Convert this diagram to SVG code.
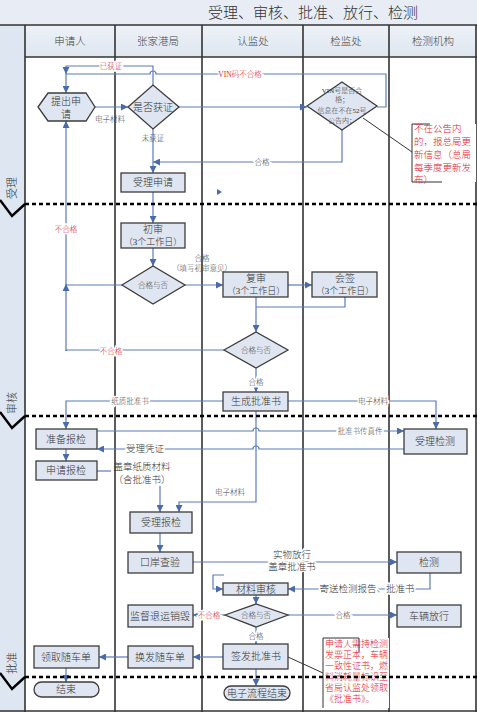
<svg xmlns="http://www.w3.org/2000/svg" width="477" height="712" viewBox="0 0 477 712">
<defs>
<marker id="a" viewBox="0 0 10 10" refX="10" refY="5" markerWidth="7" markerHeight="7" orient="auto" markerUnits="userSpaceOnUse"><path d="M0,0 L10,5 L0,10 z" fill="#4a6aaa"/></marker>
<linearGradient id="hg" x1="0" y1="0" x2="0" y2="1"><stop offset="0" stop-color="#eef2f8"/><stop offset="1" stop-color="#dfe6f0"/></linearGradient>
</defs>
<style>
text{font-family:"Liberation Serif","Noto Sans CJK SC",serif;dominant-baseline:central;text-anchor:middle;fill:#333;font-weight:300}
.box{fill:#dfe6f1;stroke:#3c3c3c;stroke-width:1.3}
.t{font-size:10px}
.m{font-size:9px}
.s{font-size:7.5px;fill:#444}
.r{font-size:7.5px;fill:#e0202a}
.v{font-size:7px;fill:#333}
.n{font-size:9.5px;fill:#e0202a;text-anchor:start}
.w{paint-order:stroke;stroke:#fff;stroke-width:3}
.c{fill:none;stroke:#5b7bb8;stroke-width:1.2}
.ca{fill:none;stroke:#5b7bb8;stroke-width:1.2;marker-end:url(#a)}
.lane{stroke:#333;stroke-width:1.6}
.sep{stroke:#000;stroke-width:2.6;stroke-dasharray:4 3}
.chev{fill:none;stroke:#000;stroke-width:2.4}
.hdr{font-size:10.5px;fill:#444}
</style>
<rect x="0" y="0" width="477" height="712" fill="#ffffff"/>
<rect x="0" y="0" width="477" height="25" fill="#e8edf5"/>
<text x="313" y="13" style="font-size:15px" fill="#222">受理、审核、批准、放行、检测</text>
<rect x="0" y="25" width="25" height="687" fill="#dde6f1"/>
<rect x="25" y="25" width="452" height="32" fill="url(#hg)"/>
<g id="lanes">
<line class="lane" x1="0" y1="25" x2="477" y2="25"/>
<line class="lane" x1="25" y1="57" x2="477" y2="57"/>
<line class="lane" x1="25" y1="25" x2="25" y2="712"/>
<line class="lane" x1="115" y1="25" x2="115" y2="712"/>
<line class="lane" x1="202" y1="25" x2="202" y2="712"/>
<line class="lane" x1="303" y1="25" x2="303" y2="712"/>
<line class="lane" x1="389" y1="25" x2="389" y2="712"/>
<line class="lane" x1="476" y1="25" x2="476" y2="712"/>
<line class="lane" x1="0" y1="711" x2="477" y2="711"/>
<text class="hdr" x="70" y="41">申请人</text>
<text class="hdr" x="158" y="41">张家港局</text>
<text class="hdr" x="253" y="41">认监处</text>
<text class="hdr" x="346" y="41">检监处</text>
<text class="hdr" x="433" y="41">检测机构</text>
</g>
<g id="phases">
<text x="12" y="188" transform="rotate(-90 12 188)" style="font-size:11px">受理</text>
<text x="12" y="403" transform="rotate(-90 12 403)" style="font-size:11px">审核</text>
<text x="12" y="663" transform="rotate(-90 12 663)" style="font-size:11px">批准</text>
<path class="chev" d="M0,200 L12,216 L25,204"/>
<path class="chev" d="M0,412 L12,428 L25,416"/>
<path class="chev" d="M0,673 L12,689 L25,677"/>
</g>
<g id="connectors">
<path class="ca" d="M153,85 V66 H66 V74"/>
<path class="ca" d="M377,107 H386 V74 H156 A3,3 0 0 0 150,74 H66 V93"/>
<path class="ca" d="M95,107 H128"/>
<path class="ca" d="M179,107 H307"/>
<path class="ca" d="M153,129 V173"/>
<path class="ca" d="M342,130 V162 H153"/>
<path class="ca" d="M153,192 V223"/>
<path class="ca" d="M153,248 V266"/>
<path class="ca" d="M185,285 H223"/>
<path class="ca" d="M288,285 H312"/>
<path class="c" d="M345,297 V307 H256"/>
<path class="ca" d="M256,297 V332"/>
<path class="ca" d="M66,351 V284"/>
<path class="ca" d="M122,285 H66 V121"/>
<path class="c" d="M224,350 H66 V351"/>
<path class="ca" d="M256,368 V392"/>
<path class="ca" d="M223,401 H66 V429"/>
<path class="ca" d="M288,401 H436 V429"/>
<path class="ca" d="M97,431 H253 A3,3 0 0 1 259,431 H404"/>
<path class="ca" d="M404,449 H259 A3,3 0 0 0 253,449 H97"/>
<path class="ca" d="M66,449 V461"/>
<path class="c" d="M97,471 H111"/>
<path class="ca" d="M160,486 V512"/>
<path class="ca" d="M256,411 V502 H179 V512"/>
<path class="ca" d="M160,533 V552"/>
<path class="ca" d="M193,562 H397"/>
<path class="ca" d="M430,573 V589 H288"/>
<path class="ca" d="M224,575 H213 V589 H223"/>
<path class="ca" d="M256,595 V604"/>
<path class="ca" d="M225,615 H193"/>
<path class="ca" d="M288,615 H397"/>
<path class="ca" d="M256,627 V644"/>
<path class="ca" d="M223,657 H193"/>
<path class="ca" d="M128,657 H99"/>
<path class="ca" d="M66,668 V682"/>
<path class="ca" d="M256,669 V686"/>
<polygon points="217,189 222,192 217,195" fill="#4a6aaa"/>
<path d="M363,118 L412,152" stroke="#333" stroke-width="1" fill="none"/>
<path d="M288,657 L323,673" stroke="#333" stroke-width="1" fill="none"/>
</g>
<g id="labels">
<text class="r w" x="111" y="66">已获证</text>
<text class="r w" x="240" y="74">VIN码不合格</text>
<text class="s" x="110" y="119">电子材料</text>
<text class="s" x="153" y="138">未获证</text>
<text class="s w" x="262" y="162">合格</text>
<text class="r w" x="66" y="229">不合格</text>
<text class="s" x="202" y="258">合格</text>
<text class="s" x="202" y="268">（填写初审意见）</text>
<text class="r w" x="111" y="351">不合格</text>
<text class="s w" x="256" y="382">合格</text>
<text class="s w" x="130" y="401">纸质批准书</text>
<text class="s w" x="373" y="401">电子材料</text>
<text class="s w" x="360" y="431">批准书传真件</text>
<text class="w" x="145" y="449" style="font-size:9.5px">受理凭证</text>
<text x="142" y="467" style="font-size:9.5px">盖章纸质材料</text>
<text x="142" y="480" style="font-size:9.5px">（含批准书）</text>
<text class="s" x="230" y="492">电子材料</text>
<text class="w" x="292" y="555" style="font-size:9.5px">实物放行</text>
<text class="w" x="292" y="567" style="font-size:9.5px">盖章批准书</text>
<text class="w" x="367" y="589" style="font-size:9.5px">寄送检测报告、批准书</text>
<text class="r w" x="209" y="615">不合格</text>
<text class="s w" x="343" y="615">合格</text>
<text class="s w" x="256" y="636">合格</text>
</g>
<g id="n-tichu"><polygon class="box" points="38,107 48,93 86,93 95,107 86,121 48,121"/><text class="t" x="66" y="101">提出申</text><text class="t" x="66" y="114">请</text></g>
<g id="n-huozheng"><polygon class="box" points="128,107 153,85 179,107 153,129"/><text class="t" x="153" y="107">是否获证</text></g>
<g id="n-vin"><polygon class="box" points="307,106 342,82 377,106 342,130"/><text class="v" x="342" y="91">VIN号是否合</text><text class="v" x="342" y="100">格；</text><text class="v" x="342" y="111">信息在不在52号</text><text class="v" x="342" y="121">公告内；</text></g>
<g id="n-note1"><rect x="412" y="124" width="64" height="58" fill="#fff"/><path d="M430,124 H412 V182 H442" fill="none" stroke="#333" stroke-width="1"/><text class="n" x="414" y="129">不在公告内</text><text class="n" x="414" y="142">的，报总局更</text><text class="n" x="414" y="155">新信息（总局</text><text class="n" x="414" y="168">每季度更新发</text><text class="n" x="414" y="180">布）</text></g>
<g id="n-shouli"><rect class="box" x="121" y="173" width="64" height="19"/><text class="t" x="153" y="182.5">受理申请</text></g>
<g id="n-chushen"><rect class="box" x="121" y="223" width="64" height="25"/><text class="t" x="153" y="229">初审</text><text class="m" x="153" y="241.5">（3个工作日）</text></g>
<g id="n-hege1"><polygon class="box" points="122,285 153,266 185,285 153,304"/><text class="s" x="153" y="285">合格与否</text></g>
<g id="n-fushen"><rect class="box" x="223" y="272" width="65" height="25"/><text class="t" x="256" y="278">复审</text><text class="m" x="256" y="290.5">（3个工作日）</text></g>
<g id="n-huiqian"><rect class="box" x="312" y="272" width="65" height="25"/><text class="t" x="345" y="278">会签</text><text class="m" x="345" y="290.5">（3个工作日）</text></g>
<g id="n-hege2"><polygon class="box" points="224,350 256,332 288,350 256,368"/><text class="s" x="256" y="350">合格与否</text></g>
<g id="n-shengcheng"><rect class="box" x="223" y="392" width="65" height="19"/><text class="t" x="256" y="401.5">生成批准书</text></g>
<g id="n-zhunbei"><rect class="box" x="36" y="429" width="61" height="20"/><text class="t" x="66" y="439">准备报检</text></g>
<g id="n-shenqing"><rect class="box" x="36" y="461" width="61" height="19"/><text class="t" x="66" y="470.5">申请报检</text></g>
<g id="n-shoulijiance"><rect class="box" x="404" y="429" width="63" height="25"/><text class="t" x="435" y="441.5">受理检测</text></g>
<g id="n-shoulibaojian"><rect class="box" x="130" y="512" width="62" height="21"/><text class="t" x="161" y="522.5">受理报检</text></g>
<g id="n-kouan"><rect class="box" x="128" y="552" width="65" height="21"/><text class="t" x="160" y="562.5">口岸查验</text></g>
<g id="n-jiance"><rect class="box" x="397" y="552" width="64" height="21"/><text class="t" x="429" y="562.5">检测</text></g>
<g id="n-cailiao"><rect class="box" x="223" y="583" width="65" height="12"/><text class="t" x="256" y="589">材料审核</text></g>
<g id="n-hege3"><polygon class="box" points="225,615 256,604 288,615 256,627"/><text class="s" x="256" y="615">合格与否</text></g>
<g id="n-jiandu"><rect class="box" x="128" y="605" width="65" height="22"/><text class="t" x="160" y="616">监督退运销毁</text></g>
<g id="n-fangxing"><rect class="box" x="397" y="605" width="64" height="22"/><text class="t" x="429" y="616">车辆放行</text></g>
<g id="n-qianfa"><rect class="box" x="223" y="644" width="65" height="25"/><text class="t" x="256" y="656.5">签发批准书</text></g>
<g id="n-huanfa"><rect class="box" x="128" y="646" width="65" height="22"/><text class="t" x="160" y="657">换发随车单</text></g>
<g id="n-lingqu"><rect class="box" x="34" y="646" width="65" height="22"/><text class="t" x="66" y="657">领取随车单</text></g>
<g id="n-note2"><rect x="323" y="638" width="66" height="70" fill="#fff"/><path d="M359,638 H323 V708 M359,638 V652" fill="none" stroke="#333" stroke-width="1"/><text class="n" x="325" y="644" style="font-size:9px">申请人需持检测</text><text class="n" x="325" y="655" style="font-size:9px">发票正本，车辆</text><text class="n" x="325" y="666" style="font-size:9px">一致性证书，燃</text><text class="n" x="325" y="677" style="font-size:9px">料消耗量标识至</text><text class="n" x="325" y="688" style="font-size:9px">省局认监处领取</text><text class="n" x="325" y="699" style="font-size:9px">《批准书》。</text></g>
<g id="seps">
<line class="sep" x1="25" y1="204" x2="477" y2="204"/>
<line class="sep" x1="25" y1="416" x2="477" y2="416"/>
<line class="sep" x1="25" y1="677" x2="477" y2="677"/>
</g>
<g id="n-end1"><rect class="box" x="34" y="682" width="65" height="15" rx="7.5"/><text class="t" x="66" y="689.5">结束</text></g>
<g id="n-end2"><rect class="box" x="224" y="686" width="66" height="14" rx="7"/><text class="t" x="257" y="693">电子流程结束</text></g>
</svg>
